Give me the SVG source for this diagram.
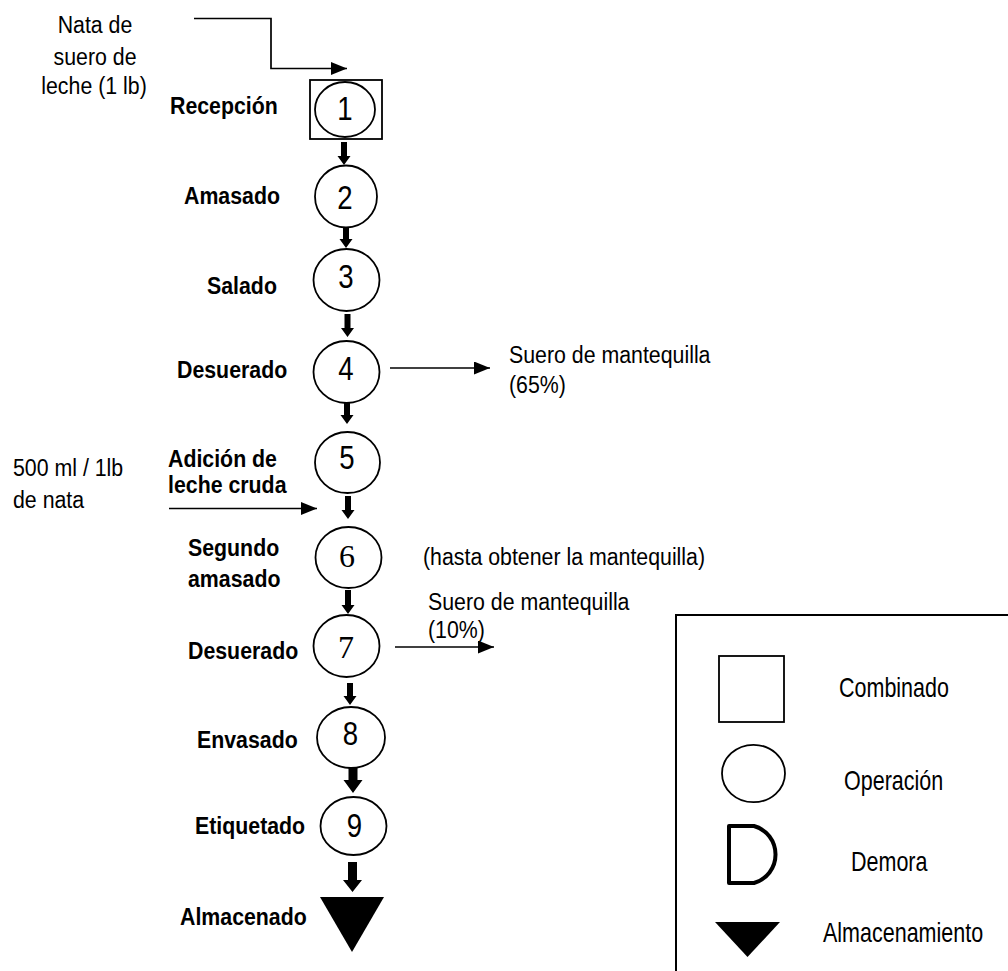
<svg xmlns="http://www.w3.org/2000/svg" width="1008" height="971" viewBox="0 0 1008 971">
<style>
text{font-family:"Liberation Sans",Arial,sans-serif;fill:#000}
.t{font-size:21.33px}
.b{font-size:21.33px;font-weight:bold}
.n{font-size:30px;text-anchor:middle}
.ns{font-family:"Liberation Serif","Times New Roman",serif;font-size:32px;text-anchor:middle}
.c{text-anchor:middle}
.lg{font-size:21.5px}
.op{fill:#fff;stroke:#000;stroke-width:1.8}
.ln{fill:none;stroke:#000;stroke-width:1.7}
.blk{fill:#000;stroke:none}
</style>
<defs>
<marker id="ah" markerUnits="userSpaceOnUse" markerWidth="17" markerHeight="13" refX="16" refY="6.5" orient="auto">
<path d="M0,0 L16,6.5 L0,13 Z" fill="#000"/>
</marker>
</defs>
<rect width="1008" height="971" fill="#fff"/>

<g id="connectors">
<path class="ln" d="M194,18.5 H271 V68.5 H347" marker-end="url(#ah)"/>
<path class="ln" d="M390,368 H490" marker-end="url(#ah)"/>
<path class="ln" d="M169,508.5 H317" marker-end="url(#ah)"/>
<path class="ln" d="M395,647 H494" marker-end="url(#ah)"/>
<polygon class="blk" points="341,142 347,142 347,156 350.5,156 344,165 337.5,156 341,156"/>
<polygon class="blk" points="343,228 349,228 349,239 352.5,239 346,248 339.5,239 343,239"/>
<polygon class="blk" points="344.5,314 350.5,314 350.5,328 354,328 347.5,337 341,328 344.5,328"/>
<polygon class="blk" points="344,403 350,403 350,415 353.5,415 347,424 340.5,415 344,415"/>
<polygon class="blk" points="345,496 351,496 351,510 354.5,510 348,519 341.5,510 345,510"/>
<polygon class="blk" points="345,590 351,590 351,605 354.5,605 348,614 341.5,605 345,605"/>
<polygon class="blk" points="347,683 353,683 353,696 356.5,696 350,705 343.5,696 347,696"/>
<polygon class="blk" points="348.5,768 357.5,768 357.5,780 362.5,780 353,793 343.5,780 348.5,780"/>
<polygon class="blk" points="348,862 357,862 357,880 362,880 352.5,892 343,880 348,880"/>
</g>

<g id="input-nata">
<text class="t c" transform="translate(95,33) scale(1,1.08)">Nata de</text>
<text class="t c" transform="translate(95,65) scale(1,1.08)">suero de</text>
<text class="t c" transform="translate(94,94) scale(1,1.08)">leche (1 lb)</text>
</g>

<g id="node1">
<rect class="op" x="310" y="80" width="72" height="59"/>
<ellipse class="op" cx="345" cy="109.5" rx="30" ry="27.5"/>
<text class="n" transform="translate(345,120) scale(0.92,1.08)">1</text>
<text class="b" transform="translate(170,114) scale(1,1.08)">Recepción</text>
</g>
<g id="node2">
<ellipse class="op" cx="346" cy="196.5" rx="31" ry="31"/>
<text class="n" transform="translate(345,209) scale(0.92,1.08)">2</text>
<text class="b" transform="translate(184,204) scale(1,1.08)">Amasado</text>
</g>
<g id="node3">
<ellipse class="op" cx="346.5" cy="280" rx="33" ry="31"/>
<text class="n" transform="translate(346,288) scale(0.92,1.08)">3</text>
<text class="b" transform="translate(207,294) scale(1,1.08)">Salado</text>
</g>
<g id="node4">
<ellipse class="op" cx="346.5" cy="372" rx="33" ry="31"/>
<text class="n" transform="translate(346,380) scale(0.92,1.08)">4</text>
<text class="b" transform="translate(177,378) scale(1,1.08)">Desuerado</text>
</g>
<g id="node5">
<ellipse class="op" cx="347.5" cy="462.5" rx="32.5" ry="30.5"/>
<text class="n" transform="translate(347,469) scale(0.92,1.08)">5</text>
<text class="b" transform="translate(168,467) scale(1,1.08)">Adición de</text>
<text class="b" transform="translate(168,493) scale(1,1.08)">leche cruda</text>
</g>
<g id="node6">
<ellipse class="op" cx="348.5" cy="557.5" rx="33" ry="30.5"/>
<text class="ns" x="347" y="567">6</text>
<text class="b" transform="translate(188,556) scale(1,1.08)">Segundo</text>
<text class="b" transform="translate(188,587) scale(1,1.08)">amasado</text>
</g>
<g id="node7">
<ellipse class="op" cx="346.5" cy="646" rx="33" ry="31"/>
<text class="ns" x="346" y="658">7</text>
<text class="b" transform="translate(188,659) scale(1,1.08)">Desuerado</text>
</g>
<g id="node8">
<ellipse class="op" cx="351" cy="737.5" rx="34" ry="30.5"/>
<text class="n" transform="translate(350.5,745) scale(0.92,1.08)">8</text>
<text class="b" transform="translate(197,748) scale(1,1.08)">Envasado</text>
</g>
<g id="node9">
<ellipse class="op" cx="353.5" cy="826" rx="33" ry="29"/>
<text class="n" transform="translate(354.5,837) scale(0.92,1.08)">9</text>
<text class="b" transform="translate(195,834) scale(1,1.08)">Etiquetado</text>
</g>
<g id="node10">
<polygon class="blk" points="320,897 384,897 352,952"/>
<text class="b" transform="translate(180,925) scale(1,1.08)">Almacenado</text>
</g>

<g id="out-suero65">
<text class="t" transform="translate(509,363) scale(1,1.08)">Suero de mantequilla</text>
<text class="t" transform="translate(509,393) scale(1,1.08)">(65%)</text>
</g>
<g id="input-leche">
<text class="t" transform="translate(13,476) scale(1,1.08)">500 ml / 1lb</text>
<text class="t" transform="translate(13,508) scale(1,1.08)">de nata</text>
</g>
<g id="note6">
<text class="t" transform="translate(423,565) scale(1,1.08)">(hasta obtener la mantequilla)</text>
</g>
<g id="out-suero10">
<text class="t" transform="translate(428,610) scale(1,1.08)">Suero de mantequilla</text>
<text class="t" transform="translate(428,638) scale(1,1.08)">(10%)</text>
</g>

<g id="legend">
<rect x="676" y="615" width="360" height="400" fill="none" stroke="#000" stroke-width="2"/>
<rect x="719" y="656" width="65" height="66" fill="none" stroke="#000" stroke-width="1.8"/>
<ellipse cx="753.5" cy="773.5" rx="31.5" ry="28.7" fill="none" stroke="#000" stroke-width="1.8"/>
<path d="M729,826 H754 A29,29.5 0 0 1 754,883 H729 Z" fill="none" stroke="#000" stroke-width="4" stroke-linejoin="round"/>
<polygon class="blk" points="715,922 780,922 747.5,957"/>
<text class="lg" transform="translate(839,697) scale(1,1.28)">Combinado</text>
<text class="lg" transform="translate(844,790) scale(1,1.28)">Operación</text>
<text class="lg" transform="translate(851,871) scale(1,1.28)">Demora</text>
<text class="lg" transform="translate(823,942) scale(1,1.28)">Almacenamiento</text>
</g>
</svg>
